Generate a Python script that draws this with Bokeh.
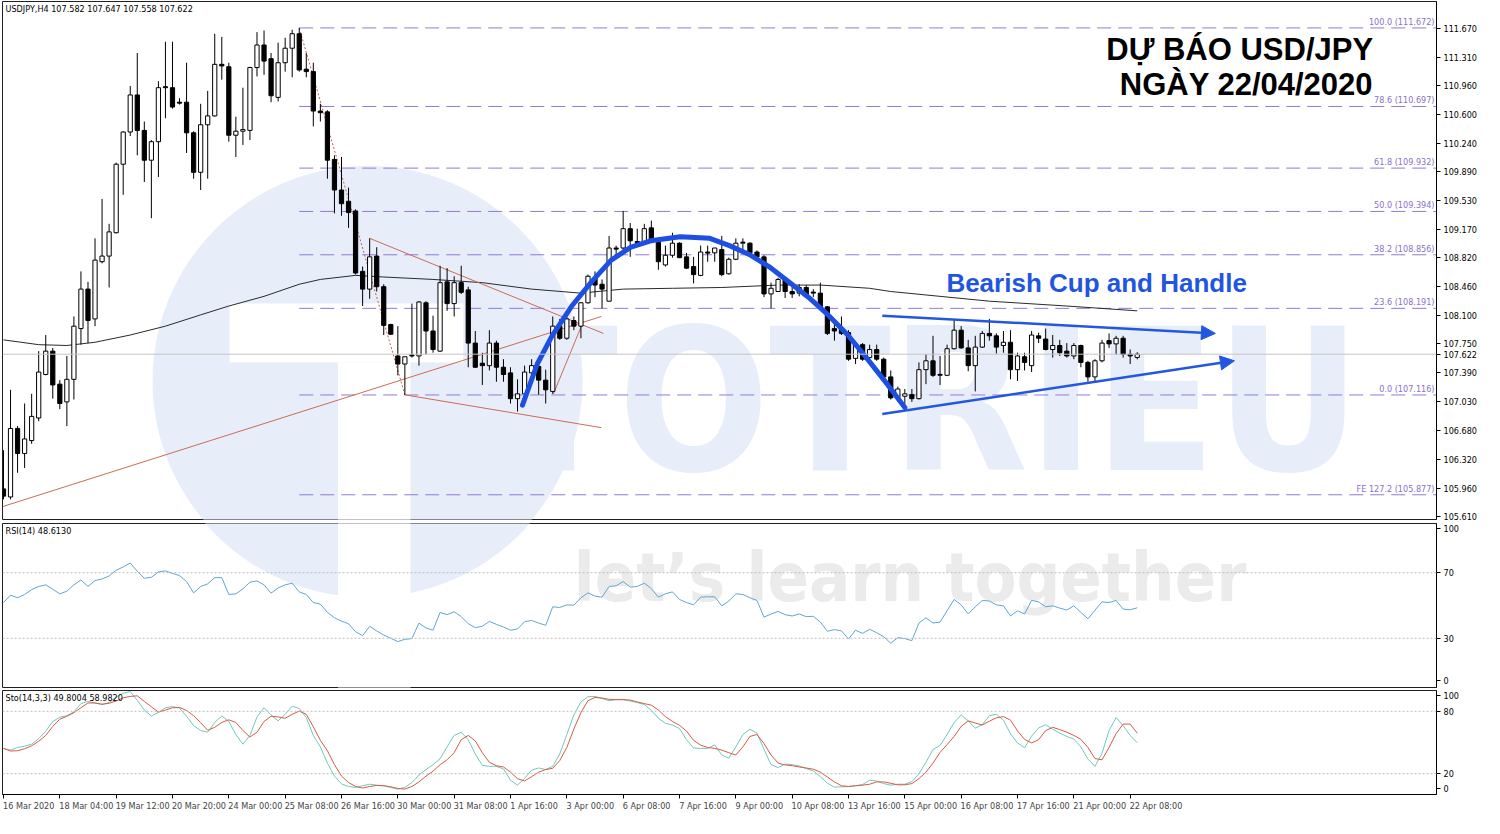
import numpy as np
from bokeh.plotting import figure
from bokeh.models import (Range1d, FixedTicker, PrintfTickFormatter, Label, Span,
                          ColumnDataSource, Arrow, NormalHead)
from bokeh.layouts import column
from bokeh.embed import file_html
from bokeh.resources import INLINE
from bokeh.core.properties import value

# ---------------- DATA ----------------
opens = [105.95,105.85,106.70,106.39,106.55,106.83,107.37,107.66,107.25,107.03,
         107.31,107.94,108.43,108.06,108.77,108.84,109.13,109.98,110.38,110.84,
         110.40,110.03,110.26,110.93,110.93,110.75,110.75,110.37,109.88,110.47,
         110.58,111.22,111.19,110.34,110.39,110.40,111.18,111.46,111.29,110.81,
         111.24,111.42,111.60,111.16,111.13,110.64,110.63,110.04,109.66,109.52,
         109.40,108.65,108.43,108.84,108.46,107.99,107.60,107.50,107.60,107.60,
         108.26,107.91,107.66,108.52,108.25,108.51,108.42,107.76,107.51,107.48,
         107.76,107.46,107.39,107.07,107.13,107.39,107.47,107.30,107.16,107.97,
         107.82,108.04,107.97,108.26,108.57,108.49,108.28,108.94,108.94,109.18,
         109.02,109.02,109.19,109.01,108.73,108.85,109.00,108.83,108.71,108.60,
         108.89,108.88,108.92,108.62,108.80,109.00,109.00,108.89,108.83,108.37,
         108.40,108.55,108.40,108.38,108.45,108.38,108.38,108.21,107.94,107.94,
         107.89,107.57,107.74,107.58,107.68,107.56,107.34,107.08,107.10,107.12,
         107.07,107.43,107.54,107.36,107.36,107.69,107.92,107.70,107.48,107.71,
         107.88,107.85,107.73,107.77,107.43,107.59,107.48,107.85,107.81,107.68,
         107.73,107.66,107.60,107.73,107.52,107.34,107.54,107.79,107.75,107.82,
         107.62,107.582]
highs = [106.43,107.18,106.73,107.01,107.13,107.66,107.86,107.70,107.30,107.60,
         108.09,108.65,108.52,109.06,109.55,109.24,110.00,110.39,110.95,111.36,
         110.51,110.28,111.01,111.50,111.50,110.80,111.24,110.39,110.73,110.89,
         111.60,111.56,111.24,110.57,110.93,111.19,111.62,111.64,111.36,111.49,
         111.55,111.65,111.672,111.36,111.24,110.73,110.65,110.09,110.07,109.69,
         109.42,108.71,109.06,108.95,108.49,108.00,107.97,107.59,108.25,108.28,
         108.28,108.10,108.72,108.69,108.59,108.72,108.46,107.91,107.64,107.92,
         107.79,107.56,107.46,107.31,107.48,107.56,107.56,107.43,108.09,108.06,
         108.10,108.09,108.27,108.61,108.65,108.55,109.09,108.97,109.40,109.25,
         109.18,109.24,109.28,109.02,108.97,109.13,109.01,108.88,108.83,108.97,
         108.97,108.94,109.09,108.82,109.06,109.06,109.01,108.91,108.85,108.51,
         108.57,108.57,108.48,108.49,108.48,108.43,108.51,108.22,108.00,108.09,
         107.92,107.76,107.76,107.74,107.74,107.58,107.42,107.22,107.19,107.19,
         107.52,107.62,107.85,107.60,107.74,108.05,107.97,107.80,107.85,107.91,
         108.06,107.88,107.91,107.92,107.64,107.64,107.91,107.89,107.94,107.86,
         107.80,107.76,107.76,107.74,107.54,107.56,107.80,107.88,107.85,107.85,
         107.68,107.647]
lows = [105.82,105.82,106.15,106.21,106.51,106.79,107.36,107.07,106.94,106.73,
        107.06,107.74,107.76,107.97,108.75,108.45,109.12,109.60,110.33,110.09,
        109.76,109.31,109.82,110.55,110.67,110.72,110.12,109.80,109.66,109.80,
        110.57,111.03,110.26,110.07,110.22,110.28,111.07,111.09,110.75,110.76,
        111.13,111.06,111.13,111.06,110.45,110.51,109.80,109.37,109.34,109.19,
        108.61,108.22,108.31,108.40,107.86,107.86,107.36,107.116,107.58,107.48,
        107.62,107.64,107.65,108.16,108.09,108.37,107.46,107.45,107.24,107.42,
        107.28,107.28,107.01,106.91,107.12,107.37,107.12,107.01,107.13,107.80,
        107.80,107.92,107.82,108.25,108.33,108.19,108.28,108.83,108.91,108.83,
        109.00,109.01,109.00,108.67,108.71,108.82,108.82,108.68,108.50,108.59,
        108.77,108.77,108.59,108.61,108.79,108.89,108.85,108.82,108.33,108.19,
        108.40,108.32,108.32,108.34,108.33,108.33,108.20,107.86,107.79,107.86,
        107.54,107.50,107.54,107.56,107.54,107.28,107.06,107.03,107.00,107.03,
        107.06,107.25,107.34,107.24,107.35,107.68,107.69,107.41,107.16,107.70,
        107.79,107.63,107.64,107.31,107.29,107.42,107.40,107.76,107.67,107.58,
        107.60,107.58,107.56,107.46,107.28,107.28,107.52,107.70,107.62,107.58,
        107.50,107.558]
closes = [105.86,106.70,106.39,106.57,106.85,107.40,107.66,107.24,107.01,107.31,
          107.97,108.43,108.04,108.79,108.84,109.14,109.98,110.38,110.84,110.40,
          110.03,110.26,110.93,110.94,110.69,110.74,110.37,109.88,110.47,110.58,
          111.22,111.20,110.34,110.39,110.41,111.18,111.46,111.26,110.83,111.24,
          111.42,111.60,111.15,111.13,110.64,110.62,110.03,109.66,109.49,109.38,
          108.63,108.43,108.83,108.46,107.98,107.87,107.50,107.59,107.61,108.27,
          107.91,107.68,108.51,108.25,108.51,108.39,107.76,107.46,107.48,107.76,
          107.46,107.37,107.07,107.13,107.40,107.48,107.30,107.18,107.97,107.82,
          108.06,107.97,108.26,108.59,108.48,108.43,108.94,108.93,109.18,109.03,
          109.01,109.18,109.01,108.77,108.85,109.00,108.82,108.69,108.61,108.89,
          108.88,108.94,108.61,108.80,109.00,109.01,108.88,108.83,108.37,108.44,
          108.55,108.40,108.37,108.45,108.34,108.39,108.21,107.88,107.91,107.88,
          107.56,107.74,107.56,107.68,107.56,107.34,107.08,107.19,107.13,107.07,
          107.43,107.54,107.36,107.37,107.69,107.92,107.70,107.48,107.71,107.88,
          107.85,107.71,107.77,107.43,107.60,107.52,107.86,107.82,107.68,107.73,
          107.64,107.60,107.73,107.52,107.34,107.54,107.76,107.75,107.82,107.62,
          107.60,107.622]

ma_idx = [0, 5, 9, 13, 18, 23, 28, 32, 37, 42, 45, 50, 54, 61, 68, 75, 82, 88, 95,
          102, 110, 116, 123, 126, 140, 151, 161]
ma_val = [107.80, 107.74, 107.73, 107.77, 107.86, 107.97, 108.11, 108.22, 108.34,
          108.49, 108.55, 108.60, 108.58, 108.55, 108.51, 108.43, 108.38, 108.43,
          108.44, 108.45, 108.48, 108.48, 108.44, 108.40, 108.28, 108.22, 108.16]

rsi = [51.8,56.3,54.7,56.7,59.7,61.6,62.6,59.9,57.1,58.7,
       62.6,65.6,61.6,65.2,66.2,68.0,71.5,73.5,75.9,70.9,
       66.6,67.2,70.5,71.1,69.6,68.2,64.6,57.7,61.6,63.2,
       67.0,67.0,56.7,57.1,60.1,64.2,65.0,62.6,57.5,60.7,
       62.6,63.6,58.3,56.7,51.8,50.8,45.8,42.5,40.5,38.9,
       34.0,31.6,37.3,34.5,32.0,30.0,28.0,29.4,29.8,39.3,
       36.3,34.9,45.8,44.4,46.2,43.2,38.9,36.5,37.3,40.3,
       38.5,36.9,34.9,35.7,40.1,40.9,39.3,37.9,49.2,48.8,
       50.4,50.2,54.7,57.7,55.7,55.1,61.6,62.0,64.6,61.2,
       61.6,63.6,60.3,55.1,57.1,58.3,53.7,51.8,50.4,55.1,
       55.3,55.3,49.8,52.7,57.1,56.7,54.7,53.1,42.9,44.8,
       46.4,44.4,43.6,44.8,43.2,43.4,39.9,34.3,35.3,34.5,
       29.6,34.9,33.0,35.5,33.4,31.0,27.0,30.4,29.8,28.6,
       39.3,42.5,39.3,39.9,46.8,53.7,50.4,44.8,49.2,53.1,
       52.7,50.4,49.8,43.6,46.8,44.8,53.1,52.2,49.2,49.8,
       48.4,47.2,49.8,45.8,41.9,47.2,52.2,51.8,53.1,47.8,
       47.4,48.61]

sto_k = [44.3,42.7,45.2,46.5,48.4,53.7,60.9,70.2,74.3,75.8,
         79.3,87.4,89.6,88.0,86.5,88.4,93.7,97.4,99.0,90.5,
         81.2,75.5,79.0,83.4,84.6,83.0,75.2,66.2,61.5,59.9,
         69.3,75.5,70.2,57.7,48.4,56.8,74.6,83.4,76.5,70.8,
         77.1,84.9,82.7,74.0,56.8,45.8,30.2,17.7,10.2,7.7,
         6.8,8.4,9.9,9.0,8.4,6.8,5.2,6.8,11.5,18.7,
         24.0,28.7,34.3,45.8,56.8,59.9,52.7,39.0,28.0,27.1,
         27.1,24.6,13.7,9.0,15.5,23.4,25.5,24.0,27.1,39.0,
         57.7,76.5,89.0,94.0,94.3,92.4,90.2,91.2,91.2,89.9,
         88.4,86.5,80.8,73.3,68.4,66.8,63.4,52.7,44.6,44.3,
         44.3,47.7,38.0,34.9,45.8,57.7,62.7,59.0,43.4,28.7,
         25.9,29.3,28.7,27.4,24.9,22.7,17.1,10.9,7.1,7.4,
         7.7,8.4,9.6,13.7,13.0,10.5,9.0,9.9,9.9,12.4,
         19.9,30.9,43.4,47.1,57.7,69.3,76.5,70.8,63.7,67.1,
         75.8,77.1,71.5,58.4,49.6,44.9,56.2,64.0,67.1,62.7,
         59.0,55.8,53.3,45.8,34.0,27.1,39.6,61.5,74.0,66.2,
         56.8,49.80]
sto_d = [44.3,41.8,42.1,44.0,46.8,51.2,56.8,65.5,72.4,75.2,
         78.7,83.4,88.0,88.0,86.8,87.7,89.9,93.0,94.3,94.9,
         89.6,84.3,79.3,81.2,83.4,83.7,80.8,75.8,69.0,61.8,
         64.6,69.3,71.8,69.3,61.5,55.2,59.9,70.2,75.2,74.6,
         73.3,77.1,80.2,77.1,65.2,52.1,42.1,28.7,17.7,11.5,
         7.7,6.2,7.7,8.7,8.4,7.4,5.8,5.2,7.7,12.1,
         17.7,22.4,28.7,33.4,40.2,52.7,56.8,51.5,40.2,30.9,
         27.7,26.5,21.5,15.2,13.0,17.1,21.5,24.0,25.2,32.7,
         45.2,63.0,78.7,90.2,93.3,92.7,91.5,91.2,91.2,90.8,
         89.0,87.4,85.9,81.2,74.9,70.2,66.5,60.9,52.1,47.4,
         45.2,44.3,42.7,40.2,38.0,45.8,55.8,57.7,49.0,38.0,
         30.2,28.4,27.7,26.5,25.5,24.3,21.5,16.8,12.1,8.4,
         7.7,8.4,9.0,9.9,12.1,12.1,10.8,9.3,9.3,10.5,
         15.2,21.5,30.2,40.5,48.0,55.8,65.5,70.8,68.7,66.8,
         70.5,73.7,74.9,71.5,61.2,53.0,49.6,52.7,61.5,64.6,
         62.4,59.9,56.8,53.0,45.2,34.6,33.4,45.2,58.4,67.7,
         67.7,58.98]

fib_levels = [111.672, 110.697, 109.932, 109.394, 108.856, 108.191, 107.116, 105.877]
fib_names = ["100.0", "78.6", "61.8", "50.0", "38.2", "23.6", "0.0", "FE 127.2"]
fib_start = 42

price_ticks = [111.670, 111.310, 110.960, 110.600, 110.240, 109.890, 109.530, 109.170,
               108.820, 108.460, 108.100, 107.750, 107.390, 107.030, 106.680, 106.320,
               105.960, 105.610]
last_price = 107.622

x_tick_idx = [0, 8, 16, 24, 32, 40, 48, 56, 64, 72, 80, 88, 96, 104, 112, 120, 128,
              136, 144, 152, 160]
x_tick_lbl = ["16 Mar 2020", "18 Mar 04:00", "19 Mar 12:00", "20 Mar 20:00",
              "24 Mar 00:00", "25 Mar 08:00", "26 Mar 16:00", "30 Mar 00:00",
              "31 Mar 08:00", "1 Apr 16:00", "3 Apr 00:00", "6 Apr 08:00",
              "7 Apr 16:00", "9 Apr 00:00", "10 Apr 08:00", "13 Apr 16:00",
              "15 Apr 00:00", "16 Apr 08:00", "17 Apr 16:00", "21 Apr 00:00",
              "22 Apr 08:00"]

# annotations drawn on the chart (candle index, price)
trend_x0 = [-0.14, 52.0, 57.1, 78.1]
trend_y0 = [105.73, 109.06, 107.116, 107.13]
trend_x1 = [84.9, 85.2, 84.9, 82.35]
trend_y1 = [108.09, 107.88, 106.71, 108.03]

cup_x = [73.7, 75.8, 77.9, 80.7, 83.5, 86.3, 89.1, 91.9, 96.1, 100.3, 103.1, 105.9,
         108.7, 111.5, 114.3, 117.1, 119.9, 122.7, 125.5, 128.0]
cup_y = [106.99, 107.50, 107.85, 108.22, 108.52, 108.79, 108.95, 109.03, 109.08, 109.06,
         108.97, 108.86, 108.71, 108.52, 108.33, 108.11, 107.86, 107.56, 107.25, 106.96]

handle_x0 = [124.8, 124.8]
handle_y0 = [108.10, 106.88]
handle_x1 = [172.1, 174.8]
handle_y1 = [107.88, 107.54]

# ---------------- STYLE / LAYOUT ----------------
X0, X1 = -0.14, 203.5
FW = 1434
PXC = FW / (X1 - X0)          # pixels per candle
NARROW = "DejaVu Sans Condensed, Liberation Sans Narrow, Liberation Sans, sans-serif"
BOLD = "Liberation Sans, Arial, sans-serif"
WM_BLUE = "#e7eef9"
WM_GRAY = "#ebebeb"
SMALL = "9px"


def base_fig(fh, yr, top, bottom, xaxis=None):
    p = figure(x_range=Range1d(X0, X1), y_range=yr, frame_width=FW, frame_height=fh,
               output_backend="svg", toolbar_location=None, y_axis_location="right",
               x_axis_location=xaxis, min_border_left=2, min_border_right=0,
               min_border_top=top, min_border_bottom=bottom)
    p.grid.visible = False
    p.outline_line_color = "#202020"
    p.outline_line_width = 1
    p.background_fill_color = "white"
    p.border_fill_color = "white"
    ax = p.yaxis[0]
    ax.major_tick_in = 0
    ax.major_tick_out = 4
    ax.minor_tick_line_color = None
    ax.axis_line_color = "black"
    ax.major_tick_line_color = "black"
    ax.major_label_text_font_size = SMALL
    ax.major_label_text_font = NARROW
    ax.major_label_text_color = "black"
    ax.major_label_standoff = 3
    return p


idx = list(range(len(closes)))

# ---- price panel ----
p1 = base_fig(518, Range1d(105.57, 112.0), 1, 2)
p1.yaxis[0].ticker = FixedTicker(ticks=price_ticks + [last_price])
p1.yaxis[0].formatter = PrintfTickFormatter(format="%.3f")

# watermark
p1.scatter(x=[51.7], y=[107.29], size=430, marker="circle", fill_color=WM_BLUE,
           line_color=None)
p1.quad(left=[32.1, 47.5], right=[65.3, 57.8], top=[108.25, 107.52],
        bottom=[107.52, 104.0], fill_color="white", line_color=None)
p1.text(x=[70.0], y=[105.60], text=["TOTRIEU"], text_font=value(NARROW),
        text_font_style="bold", text_font_size="198px", text_color=WM_BLUE,
        text_baseline="bottom", text_align="left")

# fib levels
for lv in fib_levels:
    p1.line(x=[fib_start, X1], y=[lv, lv], line_color="#9379d6", line_width=1,
            line_dash="14 7")
p1.text(x=[X1] * len(fib_levels), y=fib_levels,
        text=[f"{n} ({v:.3f})" for n, v in zip(fib_names, fib_levels)],
        text_font=value(NARROW), text_font_size=SMALL, text_color="#8a70c8",
        text_align="right", text_baseline="bottom", x_offset=-2, y_offset=-1)

p1.add_layout(Span(location=last_price, dimension="width", line_color="#c4c4c4",
                   line_width=1))

# moving average
p1.line(x=ma_idx, y=ma_val, line_color="#2a2a2a", line_width=1)

# trendlines
p1.segment(x0=trend_x0, y0=trend_y0, x1=trend_x1, y1=trend_y1, line_color="#cf6a55",
           line_width=1)
p1.line(x=[fib_start, 57], y=[fib_levels[0], fib_levels[6]], line_color="#c06050",
        line_dash="2 2", line_width=1)

# candles
top = [max(o, c) for o, c in zip(opens, closes)]
bot = [min(o, c) for o, c in zip(opens, closes)]
fill = ["white" if c >= o else "black" for o, c in zip(opens, closes)]
src = ColumnDataSource(dict(x=idx, h=highs, l=lows, top=top, bot=bot, fill=fill))
p1.segment(x0="x", y0="l", x1="x", y1="h", source=src, line_color="black", line_width=1)
p1.vbar(x="x", width=0.6, top="top", bottom="bot", fill_color="fill",
        line_color="black", line_width=1, source=src)
dj = [i for i in idx if abs(opens[i] - closes[i]) < 0.012]
p1.segment(x0=[i - 0.3 for i in dj], y0=[closes[i] for i in dj],
           x1=[i + 0.3 for i in dj], y1=[closes[i] for i in dj],
           line_color="black", line_width=1.2)

# cup and handle
p1.line(x=cup_x, y=cup_y, line_color="#1d4fe3", line_width=5, line_cap="round",
        line_join="round")
for xa_, ya_, xb_, yb_ in zip(handle_x0, handle_y0, handle_x1, handle_y1):
    p1.add_layout(Arrow(x_start=xa_, y_start=ya_, x_end=xb_, y_end=yb_,
                        line_color="#2457e0", line_width=2.5,
                        end=NormalHead(size=14, fill_color="#2457e0",
                                       line_color="#2457e0")))

p1.add_layout(Label(x=133.9, y=108.50, text="Bearish Cup and Handle",
                    text_font=BOLD, text_font_style="bold", text_font_size="26px",
                    text_color="#1f55e0", text_baseline="middle"))
p1.add_layout(Label(x=194.5, y=111.41, text="D\u1ef0 B\u00c1O USD/JPY",
                    text_font=BOLD, text_font_style="bold", text_font_size="31px",
                    text_color="black", text_baseline="middle", text_align="right"))
p1.add_layout(Label(x=194.5, y=110.97, text="NG\u00c0Y 22/04/2020",
                    text_font=BOLD, text_font_style="bold", text_font_size="31px",
                    text_color="black", text_baseline="middle", text_align="right"))
p1.add_layout(Label(x=3, y=516, x_units="screen", y_units="screen",
                    text="USDJPY,H4  107.582 107.647 107.558 107.622",
                    text_font=NARROW, text_font_size=SMALL, text_color="black",
                    text_baseline="top"))

# ---- RSI panel ----
p2 = base_fig(164, Range1d(0, 100), 2, 1)
p2.yaxis[0].ticker = FixedTicker(ticks=[4, 30, 70, 97])
p2.yaxis[0].major_label_overrides = {4: "0", 30: "30", 70: "70", 97: "100"}
p2.scatter(x=[51.7], y=[186.0], size=430, marker="circle", fill_color=WM_BLUE,
           line_color=None)
p2.quad(left=[47.5], right=[57.8], top=[110.0], bottom=[-10.0], fill_color="white",
        line_color=None)
p2.text(x=[81.0], y=[67.0], text=["let\u2019s learn together"], text_font=value(NARROW),
        text_font_style="bold", text_font_size="68px", text_color=WM_GRAY,
        text_baseline="alphabetic", text_align="left")
for lv in (70, 30):
    p2.add_layout(Span(location=lv, dimension="width", line_color="#bdbdbd",
                       line_dash="2 2", line_width=1))
p2.line(x=idx, y=rsi, line_color="#5fa6d3", line_width=1)
p2.add_layout(Label(x=3, y=162, x_units="screen", y_units="screen",
                    text="RSI(14) 48.6130", text_font=NARROW, text_font_size=SMALL,
                    text_color="black", text_baseline="top"))

# ---- Stochastic panel ----
p3 = base_fig(104, Range1d(0, 100), 2, 20, xaxis="below")
p3.yaxis[0].ticker = FixedTicker(ticks=[5.5, 20, 80, 95])
p3.yaxis[0].major_label_overrides = {5.5: "0", 20: "20", 80: "80", 95: "100"}
for lv in (80, 20):
    p3.add_layout(Span(location=lv, dimension="width", line_color="#bdbdbd",
                       line_dash="2 2", line_width=1))
p3.line(x=idx, y=sto_k, line_color="#72c7c0", line_width=1)
p3.line(x=idx, y=sto_d, line_color="#d85a45", line_width=1)
p3.add_layout(Label(x=3, y=102, x_units="screen", y_units="screen",
                    text="Sto(14,3,3) 49.8004 58.9820", text_font=NARROW,
                    text_font_size=SMALL, text_color="black", text_baseline="top"))

# x labels: start each label at its tick (labels centred on shifted majors,
# tick marks drawn as minor ticks at the bar positions)
CW = {" ": 0.28, ":": 0.30, "M": 0.86, "A": 0.68, "a": 0.55, "r": 0.37, "p": 0.57}
def half_w(t):
    return sum(CW.get(ch, 0.57) for ch in t) * 9 / 2 * 0.92
lbl_pos = [round(i + half_w(t) / PXC + 0.2, 3) for i, t in zip(x_tick_idx, x_tick_lbl)]
xa = p3.xaxis[0]
xa.ticker = FixedTicker(ticks=lbl_pos, minor_ticks=x_tick_idx)
xa.major_label_overrides = {pp: t for pp, t in zip(lbl_pos, x_tick_lbl)}
xa.major_label_text_font = NARROW
xa.major_label_text_font_size = SMALL
xa.major_label_standoff = 2
xa.major_tick_line_color = None
xa.major_tick_in = 0
xa.major_tick_out = 4
xa.minor_tick_line_color = "black"
xa.minor_tick_in = 0
xa.minor_tick_out = 4
xa.axis_line_color = "black"

layout = column(p1, p2, p3, spacing=0)
open("out.html", "w").write(file_html(layout, INLINE))
